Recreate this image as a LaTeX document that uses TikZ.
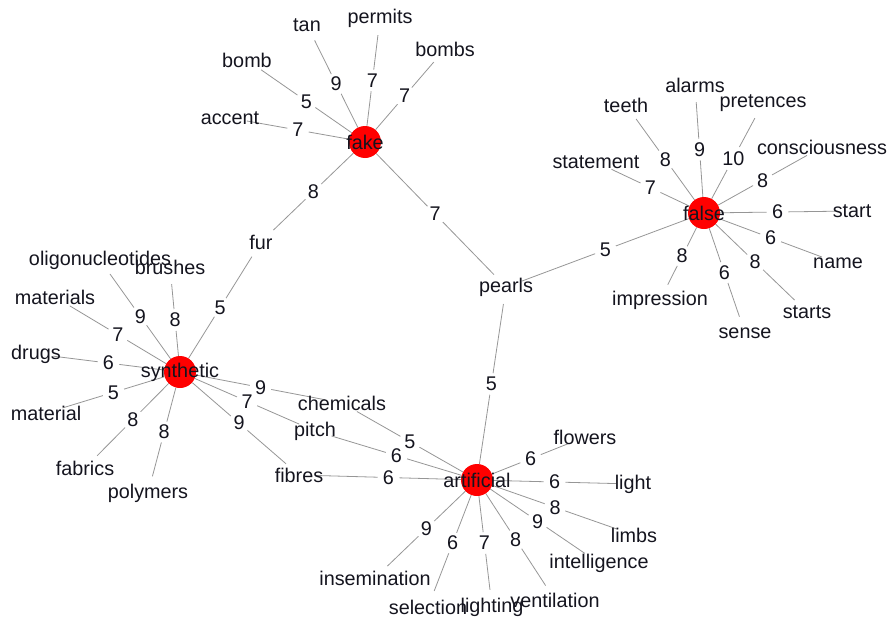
\documentclass[tikz,border=0pt]{standalone}
\usepackage{fontspec}
\setmainfont{Liberation Sans}
\usetikzlibrary{backgrounds}
\definecolor{hubred}{RGB}{255,0,0}
\definecolor{edgegray}{RGB}{150,150,150}
\definecolor{inkblack}{RGB}{20,20,30}
\tikzset{
  hub/.style={circle, fill=hubred, inner sep=0pt, minimum size=32pt},
  leaf/.style={circle, inner sep=0pt, minimum size=34pt},
  edgeline/.style={draw=edgegray, line width=0.8pt},
  elabel/.style={circle, fill=white, inner sep=0pt, minimum size=22pt, text=inkblack},
  every label/.style={text=inkblack},
}
\newcommand\leaf[3]{\node[leaf, label={center:#1}] (#1) at (#2,#3) {};}
\newcommand\hubnode[3]{\node[hub, label={center:#1}] (#1) at (#2,#3) {};}
\newcommand\lnk[3]{%
  \begin{pgfonlayer}{background}\draw[edgeline] (#1) -- (#2);\end{pgfonlayer}%
  \path (#1) -- node[elabel] {#3} (#2);}
\begin{document}
\begin{tikzpicture}[x=1pt, y=-1pt, font=\fontsize{19.8}{23}\selectfont]
\useasboundingbox (0,0) rectangle (891,621);
% hubs
\hubnode{fake}{365}{142}
\hubnode{false}{704}{213}
\hubnode{synthetic}{180}{372}
\hubnode{artificial}{477}{480}
% leaves around fake
\leaf{tan}{307}{25}
\leaf{permits}{380}{18}
\leaf{bombs}{445}{49}
\leaf{bomb}{247}{60}
\leaf{accent}{230}{118}
\leaf{fur}{261}{242}
\leaf{pearls}{506}{287}
% leaves around false
\leaf{alarms}{695}{85}
\leaf{teeth}{626}{105}
\leaf{pretences}{763}{103}
\leaf{consciousness}{822}{147}
\leaf{statement}{596}{162}
\leaf{start}{852}{211}
\leaf{name}{838}{263}
\leaf{starts}{807}{312}
\leaf{sense}{745}{333}
\leaf{impression}{660}{300}
% leaves around synthetic
\leaf{oligonucleotides}{100}{260}
\leaf{brushes}{170}{267}
\leaf{materials}{55}{297}
\leaf{drugs}{36}{354}
\leaf{material}{46}{413}
\leaf{fabrics}{85}{468}
\leaf{polymers}{148}{493}
\leaf{chemicals}{342}{403}
\leaf{pitch}{315}{431}
\leaf{fibres}{299}{475}
% leaves around artificial
\leaf{flowers}{585}{437}
\leaf{light}{633}{484}
\leaf{limbs}{634}{535}
\leaf{intelligence}{599}{563}
\leaf{ventilation}{555}{600}
\leaf{lighting}{492}{607}
\leaf{selection}{428}{607}
\leaf{insemination}{375}{578}
% edges
\lnk{fake}{accent}{7}
\lnk{fake}{bomb}{5}
\lnk{fake}{tan}{9}
\lnk{fake}{permits}{7}
\lnk{fake}{bombs}{7}
\lnk{fake}{fur}{8}
\lnk{fake}{pearls}{7}
\lnk{fur}{synthetic}{5}
\lnk{pearls}{false}{5}
\lnk{pearls}{artificial}{5}
\lnk{false}{statement}{7}
\lnk{false}{teeth}{8}
\lnk{false}{alarms}{9}
\lnk{false}{pretences}{10}
\lnk{false}{consciousness}{8}
\lnk{false}{start}{6}
\lnk{false}{name}{6}
\lnk{false}{starts}{8}
\lnk{false}{sense}{6}
\lnk{false}{impression}{8}
\lnk{synthetic}{oligonucleotides}{9}
\lnk{synthetic}{brushes}{8}
\lnk{synthetic}{materials}{7}
\lnk{synthetic}{drugs}{6}
\lnk{synthetic}{material}{5}
\lnk{synthetic}{fabrics}{8}
\lnk{synthetic}{polymers}{8}
\lnk{synthetic}{chemicals}{9}
\lnk{synthetic}{pitch}{7}
\lnk{synthetic}{fibres}{9}
\lnk{artificial}{chemicals}{5}
\lnk{artificial}{pitch}{6}
\lnk{artificial}{fibres}{6}
\lnk{artificial}{flowers}{6}
\lnk{artificial}{light}{6}
\lnk{artificial}{limbs}{8}
\lnk{artificial}{intelligence}{9}
\lnk{artificial}{ventilation}{8}
\lnk{artificial}{lighting}{7}
\lnk{artificial}{selection}{6}
\lnk{artificial}{insemination}{9}
\end{tikzpicture}
\end{document}
